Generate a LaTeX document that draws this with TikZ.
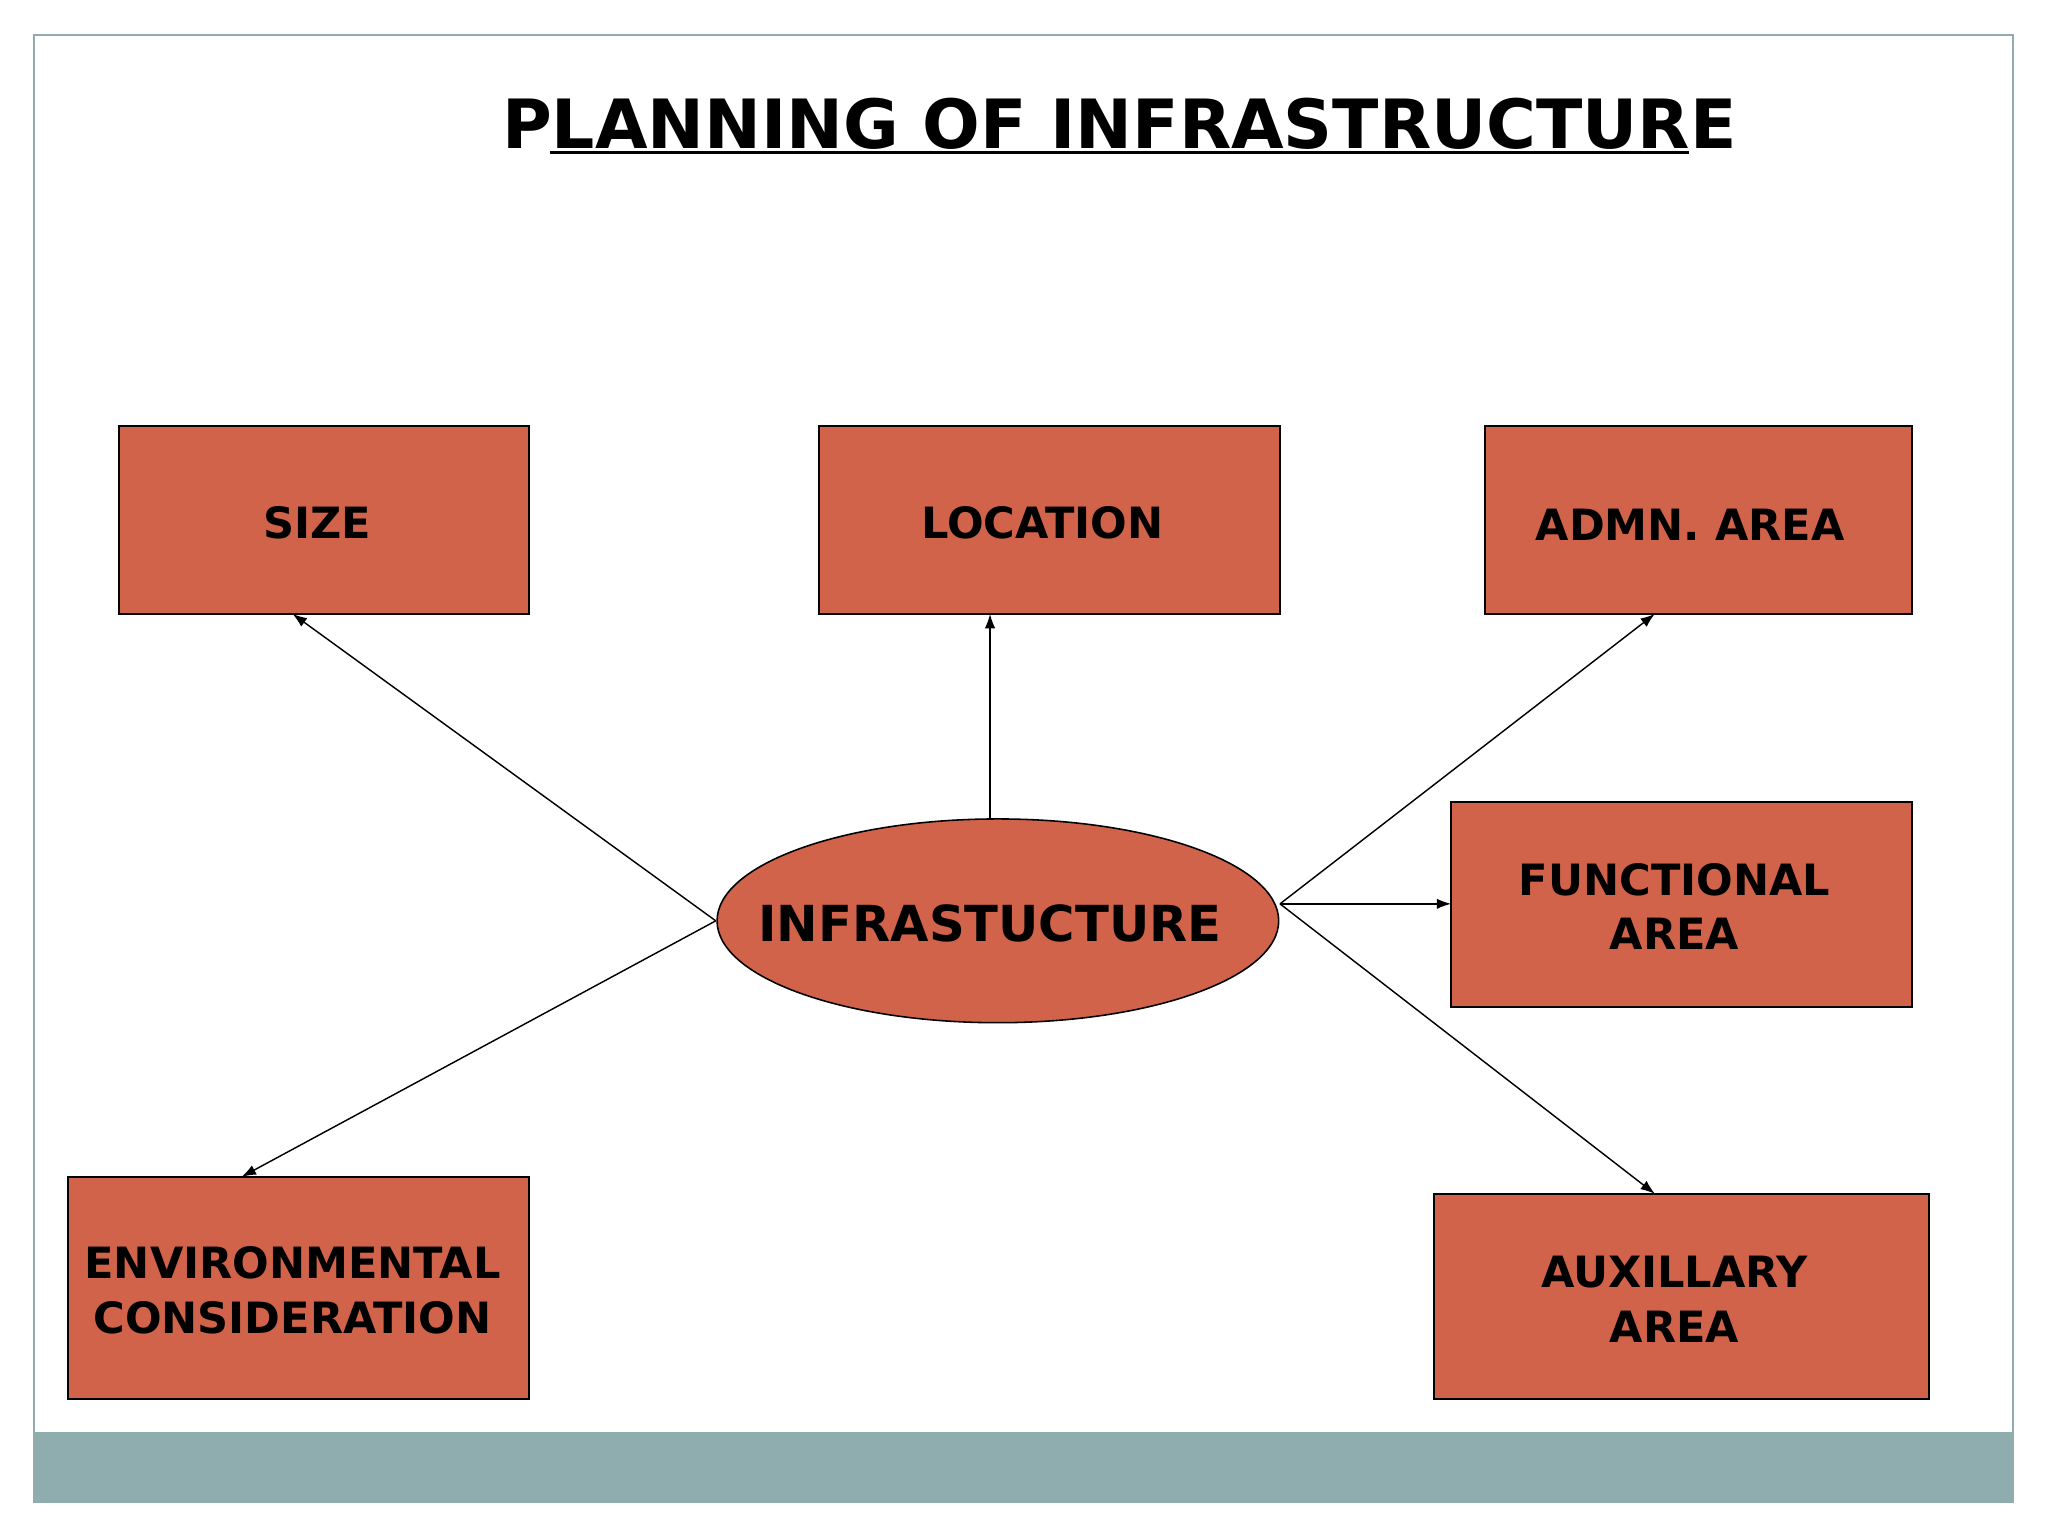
\documentclass[tikz,border=0pt]{standalone}
\usepackage{fontspec}
\setmainfont{DejaVu Sans}
\usetikzlibrary{arrows.meta,shapes.geometric}
\definecolor{boxfill}{HTML}{D1634A}
\definecolor{band}{HTML}{8FADAF}
\tikzset{
 boxn/.style={draw=black,line width=1.2pt,fill=boxfill,font=\bfseries\fontsize{33}{42}\selectfont,align=center,inner sep=0pt},
 arr/.style={-{Latex[length=11pt,width=8pt]},line width=1.1pt}
}
\begin{document}
\begin{tikzpicture}[x=1pt,y=-1pt]
\useasboundingbox (0,0) rectangle (1568,1176);
\fill[white] (0,0) rectangle (1568,1176);
\fill[band] (26,1096) rectangle (1541,1150);
\draw[band,line width=1.5pt] (26,27) rectangle (1541,1150);
\node[font=\bfseries\fontsize{52}{60}\selectfont] (title) at (857,95) {PLANNING OF INFRASTRUCTURE};
\draw[line width=2.5pt] (421,117) -- (1293,117);
\node[boxn,minimum width=314pt,minimum height=144pt] (size) at (248,398) {};
\node[font=\bfseries\fontsize{33}{42}\selectfont] at (243,400) {SIZE};
\node[boxn,minimum width=353pt,minimum height=144pt] (loc) at (803.5,398) {};
\node[font=\bfseries\fontsize{33}{42}\selectfont] at (798,400) {LOCATION};
\node[boxn,minimum width=327pt,minimum height=144pt] (adm) at (1300.5,398) {};
\node[font=\bfseries\fontsize{33}{42}\selectfont] at (1294,402) {ADMN. AREA};
\node[boxn,minimum width=353pt,minimum height=157pt] (fun) at (1287.5,692.5) {};
\node[font=\bfseries\fontsize{33}{42}\selectfont,align=center] at (1282,694) {FUNCTIONAL\\AREA};
\node[boxn,minimum width=353pt,minimum height=170pt] (env) at (228.5,986) {};
\node[font=\bfseries\fontsize{33}{42}\selectfont,align=center] at (224,988) {ENVIRONMENTAL\\CONSIDERATION};
\node[boxn,minimum width=379pt,minimum height=157pt] (aux) at (1287.5,992.5) {};
\node[font=\bfseries\fontsize{33}{42}\selectfont,align=center] at (1282,995) {AUXILLARY\\AREA};
\node[ellipse,draw,line width=1.2pt,fill=boxfill,minimum width=430pt,minimum height=156pt,inner sep=0pt] (inf) at (764,705) {};
\node[font=\bfseries\fontsize{38}{46}\selectfont] at (758,707) {INFRASTUCTURE};
\coordinate (iw) at (548,705);
\coordinate (it) at (758,627);
\coordinate (ie) at (980,692);
\coordinate (t1) at (224,470);
\coordinate (t2) at (758,470);
\coordinate (t3) at (1267,470);
\coordinate (t4) at (1111,692);
\coordinate (t5) at (1267,914);
\coordinate (t6) at (185,901);
\draw[arr] (iw) -- (t1);
\draw[arr] (it) -- (t2);
\draw[arr] (ie) -- (t3);
\draw[arr] (ie) -- (t4);
\draw[arr] (ie) -- (t5);
\draw[arr] (iw) -- (t6);
\end{tikzpicture}
\end{document}
